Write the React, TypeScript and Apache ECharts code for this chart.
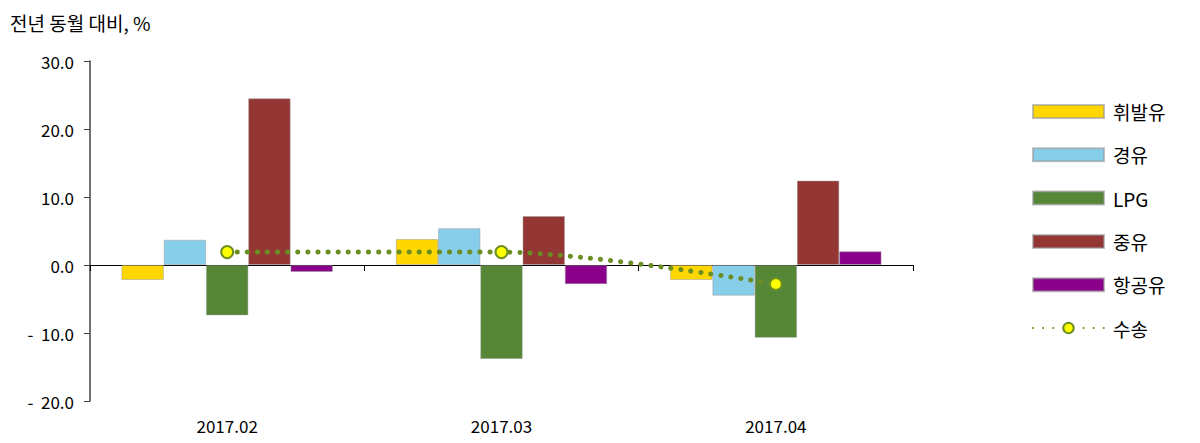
import React, { useEffect, useRef } from "react";
import * as echarts from "echarts";

const categories = ["2017.02", "2017.03", "2017.04"];
const gasoline = [-2.2, 3.8, -2.2];
const diesel = [3.7, 5.4, -4.5];
const lpg = [-7.4, -13.8, -10.7];
const heavyOil = [24.5, 7.2, 12.4];
const jetFuel = [-1.0, -2.8, 2.0];
const transport = [1.9, 1.9, -2.8];

const FONT = "'Noto Sans CJK KR', 'Noto Sans', sans-serif";

export default function App() {
  const ref = useRef<HTMLDivElement>(null);
  useEffect(() => {
    const chart = echarts.init(ref.current!, null, { renderer: "svg" });
    const barBorder = { borderColor: "rgba(150,150,150,0.6)", borderWidth: 0.8 };
    const bar = (name: string, data: number[], color: string) => ({
      name,
      type: "bar",
      data,
      xAxisIndex: 0,
      barGap: "0%",
      barCategoryGap: "23%",
      itemStyle: { color, ...barBorder },
    });
    chart.setOption({
      animation: false,
      textStyle: { fontFamily: FONT },
      title: {
        text: "전년 동월 대비, %",
        left: 5,
        top: 8,
        textStyle: { fontFamily: FONT, fontSize: 19, fontWeight: "normal", color: "#000" },
      },
      grid: { left: 90, right: 287, top: 61, bottom: 42 },
      legend: {
        orient: "vertical",
        left: 1027,
        top: 97,
        itemWidth: 71,
        itemHeight: 13,
        itemGap: 24.3,
        textStyle: { fontFamily: FONT, fontSize: 19, color: "#000", padding: [0, 0, 0, 4] },
        data: [
          { name: "휘발유", icon: "rect" },
          { name: "경유", icon: "rect" },
          { name: "LPG", icon: "rect" },
          { name: "중유", icon: "rect" },
          { name: "항공유", icon: "rect" },
          { name: "수송" },
        ],
      },
      xAxis: [
        {
          type: "category",
          data: categories,
          position: "bottom",
          axisLine: { show: false, onZero: false },
          axisTick: { show: false },
          axisLabel: { fontFamily: FONT, fontSize: 17, color: "#000", margin: 16 },
        },
        {
          type: "category",
          data: categories,
          position: "bottom",
          axisLine: { show: true, onZero: true, lineStyle: { color: "#000", width: 1 } },
          axisTick: { show: true, length: 6, lineStyle: { color: "#000" } },
          axisLabel: { show: false },
        },
      ],
      yAxis: {
        type: "value",
        min: -20,
        max: 30,
        interval: 10,
        splitLine: { show: false },
        axisLine: { show: true, onZero: false, lineStyle: { color: "#404040", width: 1.5 } },
        axisTick: { show: true, length: 6, lineStyle: { color: "#404040" } },
        axisLabel: {
          fontFamily: FONT,
          fontSize: 17,
          color: "#000",
          margin: 16,
          formatter: (v: number) => (v < 0 ? "-  " + Math.abs(v).toFixed(1) : v.toFixed(1)),
        },
      },
      series: [
        bar("휘발유", gasoline, "#FFD700"),
        bar("경유", diesel, "#87CEEB"),
        bar("LPG", lpg, "#568737"),
        bar("중유", heavyOil, "#943634"),
        bar("항공유", jetFuel, "#8B008B"),
        {
          name: "수송",
          type: "line",
          data: transport,
          xAxisIndex: 0,
          smooth: 0.3,
          symbol: "circle",
          symbolSize: 12,
          itemStyle: { color: "#FFFF00", borderColor: "#6B8E23", borderWidth: 2 },
          lineStyle: { color: "#6B8E23", width: 5, type: [0.1, 10], cap: "round" },
          z: 5,
        },
      ],
    });
    return () => chart.dispose();
  }, []);
  return <div ref={ref} style={{ width: 1200, height: 443, margin: -8 }} />;
}
